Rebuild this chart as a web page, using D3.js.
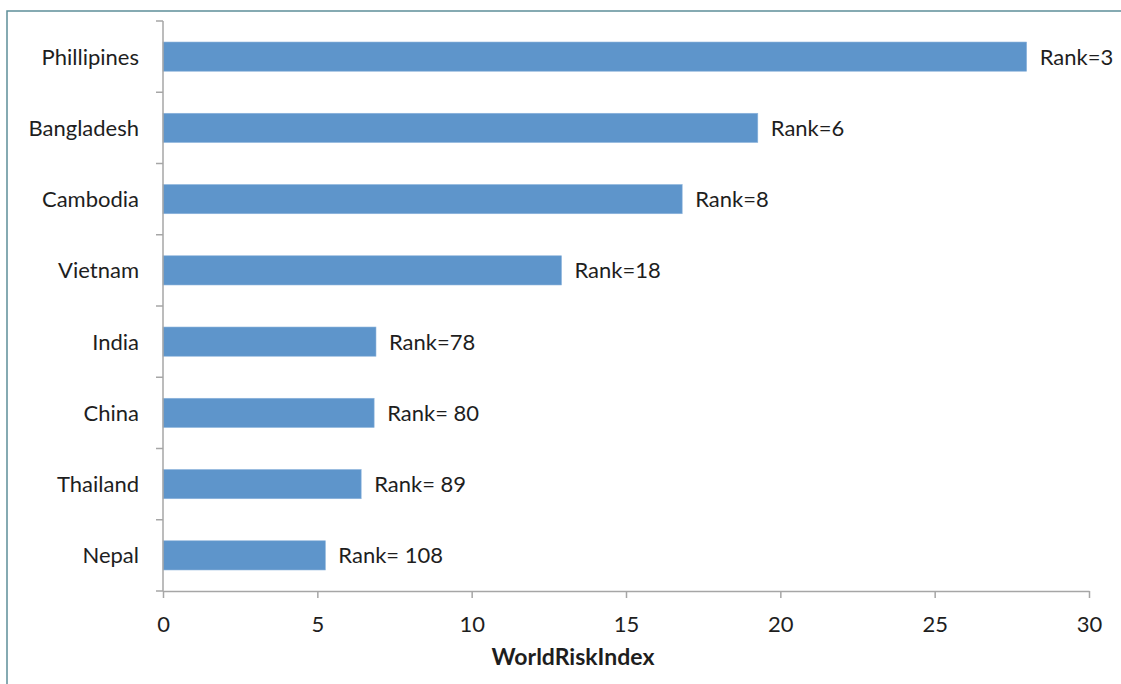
<!DOCTYPE html>
<html>
<head>
<meta charset="utf-8">
<script src="https://cdn.jsdelivr.net/npm/d3@7"></script>
<style>
  html, body { margin: 0; padding: 0; background: #fff; }
  svg { display: block; }
  text { font-family: Lato, "Open Sans", "Liberation Sans", sans-serif; fill: #1e1e1e; }
</style>
</head>
<body>
<svg id="chart" width="1121" height="684"></svg>
<script>
// WorldRiskIndex scores of selected Asian countries, with world rank
const countries = ["Phillipines", "Bangladesh", "Cambodia", "Vietnam", "India", "China", "Thailand", "Nepal"];
const riskIndex = [27.98, 19.27, 16.82, 12.91, 6.90, 6.84, 6.42, 5.26];
const rankLabels = ["Rank=3", "Rank=6", "Rank=8", "Rank=18", "Rank=78", "Rank= 80", "Rank= 89", "Rank= 108"];
const xTicks = [0, 5, 10, 15, 20, 25, 30];
const xTitle = "WorldRiskIndex";

const svg = d3.select("#chart");
const W = 1121, H = 684;
const margin = { left: 163, right: 32, top: 21, bottom: 93 };
const plotW = W - margin.left - margin.right;
const plotH = H - margin.top - margin.bottom;
const axisColor = "#a6a6a6";
const fontSize = 22;

// outer frame (top and left edges)
svg.append("path")
  .attr("d", `M7,${H} L7,11 L${W},11`)
  .attr("fill", "none")
  .attr("stroke", "#5d8f99")
  .attr("stroke-width", 1.5);

svg.append("defs").append("clipPath").attr("id", "clip")
  .append("rect").attr("x", -margin.left).attr("y", -margin.top).attr("width", 1113).attr("height", H);

const g = svg.append("g")
  .attr("transform", `translate(${margin.left},${margin.top})`)
  .attr("clip-path", "url(#clip)");

const x = d3.scaleLinear().domain([0, 30]).range([0, plotW]);
const y = d3.scaleBand().domain(countries).range([0, plotH]).paddingInner(0.59).paddingOuter(0.295);

// bars
g.selectAll("rect.bar")
  .data(countries)
  .join("rect")
  .attr("class", "bar")
  .attr("x", x(0))
  .attr("y", d => y(d))
  .attr("width", (d, i) => x(riskIndex[i]) - x(0))
  .attr("height", y.bandwidth())
  .attr("fill", "#5e95cb")
  .attr("stroke", "#8db4dc")
  .attr("stroke-width", 0.6);

// rank labels at bar ends
g.selectAll("text.rank")
  .data(countries)
  .join("text")
  .attr("class", "rank")
  .attr("x", (d, i) => x(riskIndex[i]) + 13)
  .attr("y", d => y(d) + y.bandwidth() / 2)
  .attr("dy", "0.36em")
  .attr("font-size", fontSize)
  .text((d, i) => rankLabels[i]);

// y axis: boundary ticks between categories, pointing left
const yAxisG = svg.append("g").attr("transform", `translate(${margin.left},${margin.top})`);
yAxisG.append("line")
  .attr("x1", 0).attr("x2", 0).attr("y1", 0).attr("y2", plotH)
  .attr("stroke", axisColor).attr("stroke-width", 1.5);
const step = plotH / countries.length;
yAxisG.selectAll("line.ytick")
  .data(d3.range(countries.length + 1))
  .join("line")
  .attr("class", "ytick")
  .attr("x1", -7).attr("x2", 0)
  .attr("y1", d => d * step).attr("y2", d => d * step)
  .attr("stroke", axisColor).attr("stroke-width", 1.5);
yAxisG.selectAll("text.ylab")
  .data(countries)
  .join("text")
  .attr("class", "ylab")
  .attr("x", -24)
  .attr("y", d => y(d) + y.bandwidth() / 2)
  .attr("dy", "0.36em")
  .attr("text-anchor", "end")
  .attr("font-size", fontSize)
  .text(d => d);

// x axis
const xAxis = d3.axisBottom(x).tickValues(xTicks).tickSize(7).tickSizeOuter(0).tickPadding(18);
const xAxisG = svg.append("g")
  .attr("transform", `translate(${margin.left},${margin.top + plotH})`)
  .call(xAxis);
xAxisG.select(".domain").attr("stroke", axisColor).attr("stroke-width", 1.5);
xAxisG.selectAll(".tick line").attr("stroke", axisColor).attr("stroke-width", 1.5);
xAxisG.selectAll(".tick text")
  .attr("font-size", fontSize)
  .attr("fill", "#1e1e1e")
  .attr("font-family", "Lato, 'Open Sans', 'Liberation Sans', sans-serif");

// x axis title
svg.append("text")
  .attr("x", 573)
  .attr("y", 665)
  .attr("text-anchor", "middle")
  .attr("font-size", 23)
  .attr("font-weight", "bold")
  .text(xTitle);
</script>
</body>
</html>
